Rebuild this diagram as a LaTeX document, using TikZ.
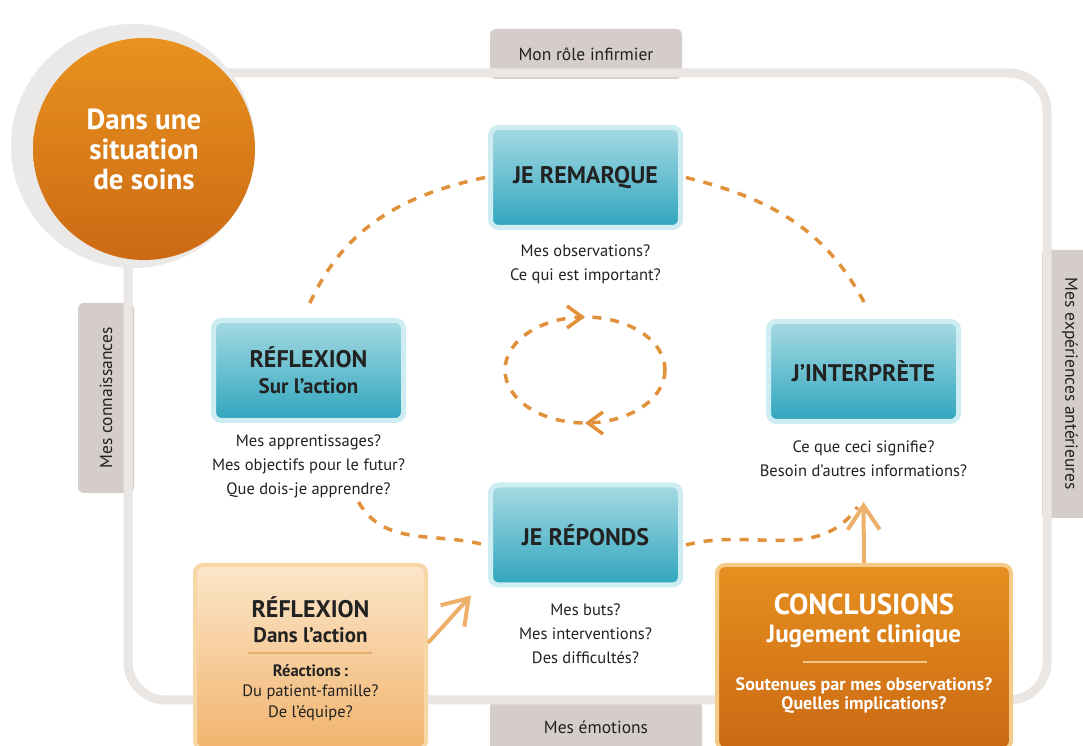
\documentclass[tikz,border=0pt]{standalone}
\usepackage{fontspec}
\setmainfont{PT Sans}
\usetikzlibrary{positioning}
\usetikzlibrary{arrows.meta}
\usetikzlibrary{decorations.markings}

\definecolor{framegray}{HTML}{E9E6E4}
\definecolor{tabgray}{HTML}{D5CDCA}
\definecolor{ringgray}{HTML}{EAE9E8}
\definecolor{circtop}{HTML}{E8921F}
\definecolor{circbot}{HTML}{CC6A14}
\definecolor{tealtop}{HTML}{A6DAE3}
\definecolor{tealbot}{HTML}{2FA5BE}
\definecolor{tealrim}{HTML}{CDEDF2}
\definecolor{dashorange}{HTML}{E0913A}
\definecolor{arroworange}{HTML}{EDB06B}
\definecolor{peachtop}{HTML}{FCE6CA}
\definecolor{peachbot}{HTML}{F1B46E}
\definecolor{peachrim}{HTML}{F8D7A6}
\definecolor{peachrule}{HTML}{E6AD6C}
\definecolor{concltop}{HTML}{E5901F}
\definecolor{conclbot}{HTML}{CC6914}
\definecolor{conclrim}{HTML}{F5CB8A}
\definecolor{conclrule}{HTML}{F3C68A}
\definecolor{inktext}{HTML}{222222}

\tikzset{
  tealbox/.style={draw=tealrim, line width=5pt, rounded corners=8pt, top color=tealtop, bottom color=tealbot,
    minimum width=190pt, minimum height=100pt, align=center, text=inktext, font=\fontsize{24}{26}\selectfont\bfseries},
  question/.style={align=center, text=inktext, font=\fontsize{16.5}{24}\selectfont},
  tabbox/.style={fill=tabgray, rounded corners=6pt, text=inktext, font=\fontsize{17.5}{20}\selectfont},
  dashloop/.style={dashorange, line width=3.5pt, dash pattern=on 9pt off 9pt},
  feed/.style={arroworange, line width=4pt, -{Straight Barb[length=24pt,width=32pt]}},
}

\begin{document}
\begin{tikzpicture}[x=1pt,y=1pt]
\useasboundingbox (0,0) rectangle (1083,746);
\clip (0,0) rectangle (1083,746);
\fill[white] (0,0) rectangle (1083,746);

% tabs
\node[tabbox, minimum width=192pt, minimum height=50pt] (roletab) at (586,692) {Mon rôle infirmier};
\node[tabbox, rotate=90, minimum width=190pt, minimum height=56pt] (knowtab) at (106,348) {Mes connaissances};
\node[tabbox, rotate=-90, minimum width=268pt, minimum height=56pt] (pasttab) at (1070,362) {Mes expériences antérieures};
\node[tabbox, minimum width=212pt, minimum height=52pt] (emotab) at (596,19) {Mes émotions};

% frame
\draw[framegray, line width=9pt, rounded corners=38pt] (128,46) rectangle (1047,673);

% situation
\fill[ringgray] (133,600) circle (122pt);
\node[circle, minimum size=222pt, top color=circtop, bottom color=circbot, text=white, align=center,
  font=\fontsize{29}{30}\selectfont\bfseries] (situation) at (144,597) {Dans une\\situation\\de soins};

% the four steps
\node[tealbox] (remarque) at (585.5,568.5) {JE REMARQUE};
\node[tealbox] (reflsur) at (308.5,375.5) {RÉFLEXION\\{\fontsize{21}{22}\selectfont Sur l’action}};
\node[tealbox] (interprete) at (863.5,374.5) {J’INTERPRÈTE};
\node[tealbox] (repond) at (585.5,211) {JE RÉPONDS};

\node[question, below=11pt of remarque] (remarqueq) {Mes observations?\\Ce qui est important?};
\node[question, below=8pt of reflsur] (reflsurq) {Mes apprentissages?\\Mes objectifs pour le futur?\\Que dois-je apprendre?};
\node[question, below=13pt of interprete] (interpreteq) {Ce que ceci signifie?\\Besoin d’autres informations?};
\node[question, below=12.5pt of repond] (repondq) {Mes buts?\\Mes interventions?\\Des difficultés?};

% cycle
\draw[dashloop] ([xshift=-3pt]remarque.west) to[out=192,in=66] ([yshift=12pt]reflsur.north);
\draw[dashloop] ([xshift=3pt]remarque.east) to[out=-14,in=118] ([xshift=1pt,yshift=16pt]interprete.north);
\draw[dashloop] ([xshift=50pt,yshift=-79pt]reflsur.south) to[out=-60,in=165] ([xshift=-3pt,yshift=-10pt]repond.west);
\draw[dashloop] ([xshift=3pt,yshift=-10pt]repond.east) to[out=15,in=235] ([xshift=-6pt,yshift=-83pt]interprete.south);

\coordinate (hub) at (585,376);
\draw[dashloop, postaction={decorate}, decoration={markings,
    mark=at position 0.25 with {\arrow{Straight Barb[length=15pt,width=22pt]}},
    mark=at position 0.75 with {\arrow{Straight Barb[length=15pt,width=22pt]}}}]
  ([xshift=80pt]hub) arc[start angle=0, end angle=-360, x radius=80pt, y radius=53pt];

% reflexion dans l'action
\node[draw=peachrim, line width=4pt, rounded corners=8pt, top color=peachtop, bottom color=peachbot,
  minimum width=231pt, minimum height=184pt] (reflans) at (310.5,89) {};
\node[align=center, text=inktext, font=\fontsize{24}{25}\selectfont\bfseries] (reflanstitle) at (310.5,126.5)
  {RÉFLEXION\\{\fontsize{21}{22}\selectfont Dans l’action}};
\draw[peachrule, line width=1.5pt] (248,93) -- (372,93);
\node[align=center, text=inktext, font=\fontsize{16.5}{20.5}\selectfont] (reflanstext) at (310.5,53.5)
  {{\bfseries Réactions\,:}\\Du patient-famille?\\De l'équipe?};

% conclusions
\node[draw=conclrim, line width=4pt, rounded corners=8pt, top color=concltop, bottom color=conclbot,
  minimum width=294pt, minimum height=184pt] (conclusions) at (864,89) {};
\node[align=center, text=white, font=\fontsize{29}{28}\selectfont\bfseries] (concltitle) at (864,125)
  {CONCLUSIONS\\{\fontsize{25}{26}\selectfont Jugement clinique}};
\draw[conclrule, line width=1.5pt] (803,84) -- (927,84);
\node[align=center, text=white, font=\fontsize{18}{19}\selectfont\bfseries] (concltext) at (864,50)
  {Soutenues par mes observations?\\Quelles implications?};

% arrows
\draw[feed] ([yshift=14pt]reflans.east) -- ([xshift=-17pt,yshift=-8pt]repond.south west);
\draw[feed] (conclusions.north) -- ([yshift=-78pt]interprete.south);
\end{tikzpicture}
\end{document}
